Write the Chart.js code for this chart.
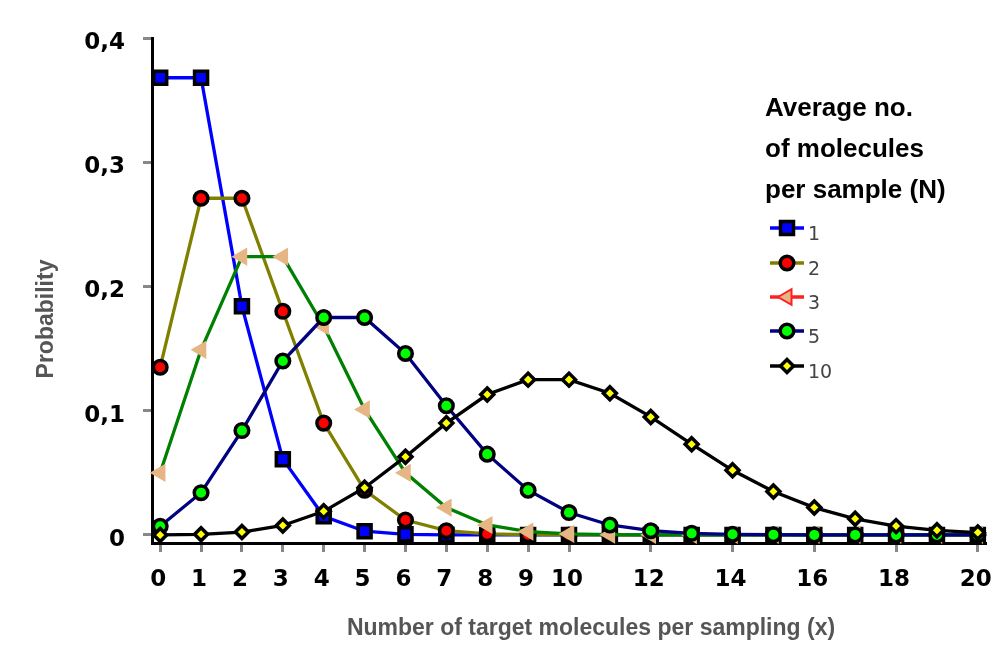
<!DOCTYPE html>
<html>
<head>
<meta charset="utf-8">
<script src="https://cdn.jsdelivr.net/npm/chart.js@4.4.1/dist/chart.umd.min.js"></script>
<style>
  html, body { margin: 0; padding: 0; background: #fff; }
</style>
</head>
<body>
<canvas id="chart" width="1008" height="656"></canvas>
<script>
// values
const xValues = [0, 1, 2, 3, 4, 5, 6, 7, 8, 9, 10, 11, 12, 13, 14, 15, 16, 17, 18, 19, 20];
const xTickValues = [0, 1, 2, 3, 4, 5, 6, 7, 8, 9, 10, 12, 14, 16, 18, 20];
const yTickValues = [0, 0.1, 0.2, 0.3, 0.4];
const yTickLabels = ['0', '0,1', '0,2', '0,3', '0,4'];
const seriesNames = ['1', '2', '3', '5', '10'];

const n1 = [0.368, 0.368, 0.184, 0.061, 0.015, 0.003, 0.0005, 0.0001, 0, 0, 0, 0, 0, 0, 0, 0, 0, 0, 0, 0, 0];
const n2 = [0.135, 0.271, 0.271, 0.180, 0.090, 0.036, 0.012, 0.0034, 0.0009, 0.0002, 0, 0, 0, 0, 0, 0, 0, 0, 0, 0, 0];
const n3 = [0.050, 0.149, 0.224, 0.224, 0.168, 0.101, 0.050, 0.022, 0.008, 0.0027, 0.0008, 0.0002, 0.0001, 0, 0, 0, 0, 0, 0, 0, 0];
const n5 = [0.007, 0.034, 0.084, 0.140, 0.175, 0.175, 0.146, 0.104, 0.065, 0.036, 0.018, 0.008, 0.0034, 0.0013, 0.0005, 0.0002, 0, 0, 0, 0, 0];
const n10 = [0, 0.0005, 0.0023, 0.0076, 0.019, 0.038, 0.063, 0.090, 0.113, 0.125, 0.125, 0.114, 0.095, 0.073, 0.052, 0.035, 0.022, 0.013, 0.0071, 0.0037, 0.0019];

const legendTitle = ['Average no.', 'of molecules', 'per sample (N)'];
const xTitle = 'Number of target molecules per sampling (x)';
const yTitle = 'Probability';

// look of each series
const styles = [
  { line: '#0000ff', fill: '#0000ff', edge: '#000', shape: 'rect', radius: 9.2, edgeWidth: 3.5, rotation: 0 },
  { line: '#808000', fill: '#ff0000', edge: '#000', shape: 'circle', radius: 6.8, edgeWidth: 3.5, rotation: 0 },
  { line: '#008000', fill: '#e5b584', edge: '#e5b584', shape: 'triangle', radius: 10.5, edgeWidth: 0, rotation: -90 },
  { line: '#000080', fill: '#00ff00', edge: '#000', shape: 'circle', radius: 6.8, edgeWidth: 3.5, rotation: 0 },
  { line: '#000000', fill: '#ffff00', edge: '#000', shape: 'rectRot', radius: 6.5, edgeWidth: 3.5, rotation: 0 }
];
// legend entry for "3" is drawn red in the original
const legendStyles = styles.map((s, i) => i === 2
  ? { line: '#ff2020', fill: '#e5b584', edge: '#ff2020', shape: 'triangle', radius: 9, edgeWidth: 2, rotation: -90 }
  : s);

const allSeries = [n1, n2, n3, n5, n10];

function toPoints(values) {
  return values.map((v, i) => ({ x: xValues[i], y: v }));
}

const datasets = allSeries.map((values, i) => {
  const s = styles[i];
  return {
    label: seriesNames[i],
    data: toPoints(values),
    borderColor: s.line,
    borderWidth: 3.3,
    pointStyle: s.shape,
    pointRadius: s.radius,
    pointRotation: s.rotation,
    pointBackgroundColor: s.fill,
    pointBorderColor: s.edge,
    pointBorderWidth: s.edgeWidth,
    tension: 0,
    clip: false,
    order: allSeries.length - i   // last series on top
  };
});

// axis titles and the legend block
const overlayPlugin = {
  id: 'overlay',
  afterDraw(chart) {
    const ctx = chart.ctx;
    ctx.save();

    ctx.fillStyle = '#555555';
    ctx.font = 'bold 23px "Liberation Sans", Arial, sans-serif';
    ctx.textAlign = 'center';
    ctx.textBaseline = 'alphabetic';
    ctx.fillText(xTitle, 591, 635);
    ctx.save();
    ctx.translate(53, 319);
    ctx.rotate(-Math.PI / 2);
    ctx.fillText(yTitle, 0, 0);
    ctx.restore();

    ctx.fillStyle = '#000';
    ctx.textAlign = 'left';
    ctx.font = 'bold 26px "Liberation Sans", Arial, sans-serif';
    legendTitle.forEach((t, i) => ctx.fillText(t, 765, 116 + i * 41));

    const rowY = [228, 263, 297, 331, 366];
    seriesNames.forEach((name, i) => {
      const s = legendStyles[i];
      const y = rowY[i];
      ctx.strokeStyle = s.line;
      ctx.lineWidth = 3.3;
      ctx.beginPath();
      ctx.moveTo(770, y);
      ctx.lineTo(804, y);
      ctx.stroke();

      ctx.fillStyle = s.fill;
      ctx.strokeStyle = s.edge;
      ctx.lineWidth = s.edgeWidth;
      Chart.helpers.drawPoint(ctx, {
        pointStyle: s.shape, radius: s.radius, rotation: s.rotation, borderWidth: s.edgeWidth
      }, 787, y);

      ctx.fillStyle = '#444444';
      ctx.font = '19px "DejaVu Sans", Verdana, sans-serif';
      ctx.fillText(name, 808, y + 12);
    });

    ctx.restore();
  }
};

const tickFont = { family: '"DejaVu Sans", Verdana, sans-serif', size: 23, weight: 'bold' };

new Chart(document.getElementById('chart'), {
  type: 'line',
  data: { datasets },
  options: {
    responsive: false,
    animation: false,
    devicePixelRatio: 1,
    events: [],
    layout: { padding: { top: 38, right: 17, bottom: 0, left: 0 } },
    plugins: { legend: { display: false }, tooltip: { enabled: false } },
    scales: {
      x: {
        type: 'linear',
        min: -0.2,
        max: 20.2,
        afterBuildTicks: scale => { scale.ticks = xTickValues.map(v => ({ value: v })); },
        afterFit: scale => { scale.height = 113; },
        grid: { drawOnChartArea: false, drawTicks: true, tickLength: 9, tickColor: '#888888', tickWidth: 3 },
        border: { display: true, color: '#000', width: 3 },
        ticks: {
          color: '#000', font: tickFont, padding: 14, labelOffset: -2,
          maxRotation: 0, autoSkip: false,
          callback: v => String(v)
        }
      },
      y: {
        type: 'linear',
        min: -0.0065,
        max: 0.4,
        afterBuildTicks: scale => { scale.ticks = yTickValues.map(v => ({ value: v })); },
        afterFit: scale => { scale.width = 152; },
        grid: { drawOnChartArea: false, drawTicks: true, tickLength: 9, tickColor: '#888888', tickWidth: 3 },
        border: { display: true, color: '#000', width: 3 },
        ticks: {
          color: '#000', font: tickFont, padding: 18, labelOffset: 5,
          autoSkip: false,
          callback: (v, i) => yTickLabels[i]
        }
      }
    }
  },
  plugins: [overlayPlugin]
});
</script>
</body>
</html>
